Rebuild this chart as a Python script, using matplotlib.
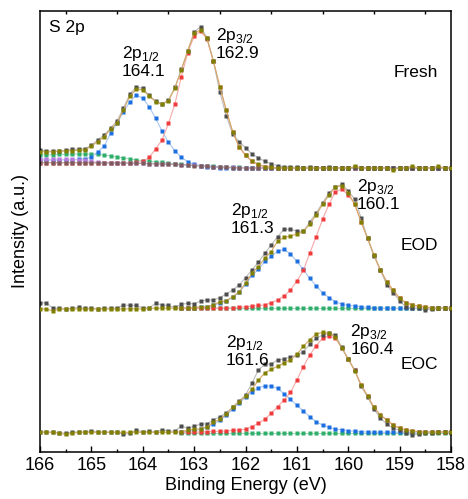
import numpy as np
import matplotlib
matplotlib.use('Agg')
from matplotlib import pyplot as plt
from matplotlib.ticker import MultipleLocator

plt.rcParams['font.family'] = ['Liberation Sans', 'DejaVu Sans']
plt.rcParams['mathtext.fontset'] = 'custom'
plt.rcParams['mathtext.rm'] = 'Liberation Sans'

# binding energy grid, 0.125 eV steps from 166 down to 158
energy = np.linspace(166, 158, 65)

# ---- Fresh ----
fresh_data = [18, 17, 16.5, 17, 17.5, 18.5, 19, 19, 23, 28,
              33, 40, 47, 60, 74, 80.7, 79.7, 72.5, 67, 64,
              68, 80.5, 98.5, 117, 136, 141.3, 130.3, 107, 75.7, 52.3,
              34, 26.3, 20.3, 14, 10.3, 6.7, 4.3, 2, 1.3, 1,
              0.5, 0.2, 1, 0.3, 0, 0.5, 0.2, 0, 0.3, 0.5,
              0, 0.2, 0, -0.3, 0.2, 0, 0.3, 0, 0.2, 0,
              0.3, 0, 0.2, 0, 0.3]
fresh_fit = [16.3, 16, 16.3, 16.7, 17, 17.3, 17.7, 18, 22, 26.3,
             31.3, 38.7, 45.3, 58, 72, 78.7, 78, 72, 66.3, 63.7,
             67.3, 79.7, 98, 117, 135, 138, 129.5, 107, 81.3, 58,
             36.3, 21.3, 13, 7, 3.5, 1.3, 0.5, 0, 0, 0,
             0, 0, 0, 0, 0, 0, 0, 0, 0, 1.5,
             0, 0, 0, 0, 0, -1.7, 0, 0, 1.7, 0,
             0, 0, 1.7, 0, 0]
fresh_p32 = [5.3, 5.3, 5.3, 5.3, 5.3, 5.3, 5.3, 5.2, 5.2, 5.1,
             5.0, 5.0, 5.0, 5.0, 5.2, 5.5, 6.5, 10.7, 19, 28,
             44.5, 64, 91, 115.3, 132, 137, 129, 106.5, 81, 57.5,
             36, 21, 12.5, 6.5, 3.3, 1.3, 0.5, 0, 0, 0,
             0, 0, 0, 0, 0, 0, 0, 0, 0, 0,
             0, 0, 0, 0, 0, 0, 0, 0, 0, 0,
             0, 0, 0, 0, 0]
fresh_p12 = [8, 8, 8, 8, 8.2, 8.4, 8.6, 9, 10.7, 16.3,
             22, 34.7, 44.7, 56.3, 66.3, 73, 69.7, 61.3, 49.7, 37,
             25.7, 17.3, 10.7, 6.3, 3.5, 2.2, 1.2, 0.6, 0.3, 0.1,
             0, 0, 0, 0, 0, 0, 0, 0, 0, 0,
             0, 0, 0, 0, 0, 0, 0, 0, 0, 0,
             0, 0, 0, 0, 0, 0, 0, 0, 0, 0,
             0, 0, 0, 0, 0]
fresh_bg = [13, 13, 13.3, 13.5, 13.7, 13.7, 14, 14, 13.7, 13.5,
            13, 12, 11, 10, 9, 8, 7.3, 6.7, 6, 5.7,
            4.7, 4.3, 3.7, 3.3, 2.7, 2.3, 2, 1.7, 1.3, 1,
            0.7, 0.5, 0.3, 0, 0, 0, 0, 0, 0, 0,
            0, 0, 0, 0, 0, 0, 0, 0, 0, 0,
            0, 0, 0, 0, 0, 0, 0, 0, 0, 0,
            0, 0, 0, 0, 0]
fresh_other = [8.7, 8.7, 8.7, 8.7, 8.6, 8.5, 8.3, 7.5, 6.5, 5.8,
               5.3, 5.1, 5.0, 4.9, 4.8, 4.7, 4.6, 4.4, 4.2, 4.0,
               3.8, 3.6, 3.3, 2.9, 2.5, 2.1, 1.7, 1.3, 1.0, 0.7,
               0.5, 0.3, 0.1, 0, 0, 0, 0, 0, 0, 0,
               0, 0, 0, 0, 0, 0, 0, 0, 0, 0,
               0, 0, 0, 0, 0, 0, 0, 0, 0, 0,
               0, 0, 0, 0, 0]
fresh_shirley = [5.3, 5.3, 5.3, 5.3, 5.3, 5.3, 5.3, 5.2, 5.2, 5.1,
                 5.0, 5.0, 4.9, 4.8, 4.7, 4.6, 4.5, 4.3, 4.1, 3.9,
                 3.7, 3.5, 3.2, 2.8, 2.4, 2.0, 1.6, 1.2, 0.9, 0.6,
                 0.4, 0.2, 0, 0, 0, 0, 0, 0, 0, 0,
                 0, 0, 0, 0, 0, 0, 0, 0, 0, 0,
                 0, 0, 0, 0, 0, 0, 0, 0, 0, 0,
                 0, 0, 0, 0, 0]

# ---- EOD ----
eod_data = [5.2, 5.8, 0, 0.5, -0.5, 0, 1, 0, 0.5, -0.5,
            0.5, 0, 0.5, 3.5, 3, 3, 0.5, 0.5, 5.2, 3.5,
            3, 1, 4.2, 5.2, 4.5, 7.5, 8.5, 8.5, 10.8, 14.5,
            18.5, 23.5, 30.8, 38.5, 46.2, 55.2, 63.5, 71.8, 79.2, 79.2,
            77.5, 77, 86.5, 95.5, 105.5, 115.5, 121.5, 124, 117.8, 109.2,
            90.8, 70.5, 52.5, 38.5, 23.5, 15.8, 7.5, 1.2, 0.8, 0.2,
            -1.5, -0.5, 0.5, 0, 0]
eod_fit = [-0.5, -0.5, -2.5, -0.5, -0.5, -0.3, -0.5, -0.5, -0.3, -0.5,
           -0.5, -0.3, -0.5, -0.5, -0.3, -0.5, -0.5, 0.3, 0.3, 0.3,
           0.3, 0.3, 0.5, 0.5, 0.8, 1.8, 1.8, 3.5, 6.8, 7.8,
           11.8, 16.8, 25.2, 35.2, 41.8, 50.2, 56.8, 67.5, 71, 72.5,
           74.5, 77, 84.2, 93.5, 104.2, 113.5, 121.8, 122.5, 115.8, 104.2,
           86.8, 70.2, 53.5, 38.5, 26.8, 18.5, 10.2, 5.8, 3.5, 2.5,
           1.8, 0.8, 0.5, 0.5, 0.5]
# components only cover the fit window (163.25 -> 158 eV)
eod_p32 = [0, 0, 0, 0.1, 0.2, 0.3, 0.4, 0.5,
           0.7, 1, 1.8, 2.2, 3, 3.5, 5.8, 8.5, 12.5, 18.5,
           27.5, 38, 55.2, 71.8, 89.2, 104.2, 116.8, 119.2, 113.5, 104.5,
           86.8, 70.2, 53.5, 38.5, 26.5, 18, 10, 5.8, 3.5, 2,
           1.2, 0.5, 0.2, 0.1, 0]
eod_p12 = [0.1, 0.2, 0.4, 1, 1.5, 3, 5.5, 7.5,
           11, 16, 24, 33, 39, 47, 52, 57.5, 59, 54.5,
           47, 39, 30, 22.5, 15.8, 10.8, 6.8, 4.2, 3.3, 2.5,
           1.8, 1.2, 0.8, 0.5, 0.3, 0.2, 0, 0, 0, 0,
           0, 0, 0, 0, 0]
eod_bg = [0, 0, 0, 0, 0, 0, 0, 0,
          0, 0, 0, 0, 0, 0, 0, 0, 0, 0,
          0, 0, 0, 0, 0, 0, 0, 0, 0, 0,
          0, 0, 0, 0, 0, 0, 0, 0, 0, 0,
          0, 0, 0, 0, 0]

# ---- EOC ----
eoc_data = [0, 0.3, 0, -0.5, -1, 0, 0.3, 0, 1.7, 0,
            0.3, 0, 0, -2, -1, 2, 0.3, 1, 0.3, 2.5,
            1.5, 1, 6.3, 4, 6, 8.3, 8.3, 12.3, 15.6, 19.6,
            25, 31.3, 37.3, 49, 62.3, 68, 68.3, 72.3, 73.3, 75.5,
            77, 80.6, 88, 94, 97.3, 99, 97.3, 85, 73, 62.3,
            46, 35.5, 23.5, 14, 8.3, 4, 2, -1, -2.7, -1.8,
            -0.3, -0.3, 0, 0.3, 0]
eoc_fit = [0, 0, 0, -1, -2, -1, 0, 0, 0, 0,
           0, 0, 0, 0, 0, 0, 0, 0, 0, 0,
           0, 0.2, 0.5, 2.3, 3, 3.5, 5.6, 10, 13, 18.3,
           24.8, 30.6, 36, 43, 52, 59.5, 63, 66, 69.5, 72.5,
           78, 86, 92.5, 98.3, 99.8, 99.3, 95, 84, 73, 61.6,
           47.3, 36.3, 25, 17.3, 12.3, 7.3, 4, 2.3, 1.3, 0.6,
           0.3, 0.3, 0.3, 0.3, 0.3]
eoc_p32 = [0, 0, 0, 0.3, 0.5, 0.8, 1, 1.3,
           1.8, 2.3, 3, 5.6, 9, 13, 19, 25.6, 32.3, 39.8,
           52.3, 65.6, 77.3, 86.6, 94, 96.3, 94, 84.5, 73.5, 62,
           47.5, 36.3, 25, 17.3, 12.3, 7.3, 4, 2.3, 1.3, 0.6,
           0.3, 0, 0, 0, 0]
eoc_p12 = [0.5, 1, 1.5, 3, 5, 8, 12, 17,
           23, 29.5, 35, 40.5, 44.5, 46.5, 46, 44, 38.5, 33,
           27, 21.5, 15.5, 10.6, 7.3, 5, 3.3, 2.3, 1.6, 1,
           0.6, 0.3, 0, 0, 0, 0, 0, 0, 0, 0,
           0, 0, 0, 0, 0]
eoc_bg = [-0.5, -0.5, -0.5, -0.5, -0.5, -0.5, -0.5, -0.5,
          -0.5, -0.5, -0.5, -0.5, -0.5, -0.5, -0.5, -0.5, -0.5, -0.5,
          -0.5, -0.5, -0.5, -0.5, -0.5, -0.5, -0.5, -0.5, -0.5, -0.5,
          -0.5, -0.5, -0.5, -0.5, -0.5, -0.5, -0.5, -0.5, -0.5, -0.5,
          -0.5, -0.5, -0.5, -0.5, -0.5]

samples = ['Fresh', 'EOD', 'EOC']
peak_12 = [164.1, 161.3, 161.6]
peak_32 = [162.9, 160.1, 160.4]
offsets = [284, 143.5, 19.7]

# (marker colour, line colour)
c_data = ('#4d4d4d', '#bdbdbd')
c_fit = ('#808000', '#d6a866')
c_p32 = ('#ef3b3b', '#f6a9a9')
c_p12 = ('#1c6fe0', '#a9c7f2')
c_bg = ('#2fae6b', '#a6dcbd')
c_other = ('#b57bdc', '#d9bdf0')
c_shirley = ('#7c5a5a', '#b8a0a0')


def trace(ax, y, off, col, z):
    y = np.asarray(y, dtype=float)
    x = energy[len(energy) - len(y):]
    ax.plot(x, y + off, '-s', color=col[1], lw=0.8, mfc=col[0], mec='none',
            ms=3.4, zorder=z)


fig = plt.figure(figsize=(4.68, 4.99), dpi=100)
ax = fig.add_axes([0.0855, 0.0942, 0.8782, 0.8838])

off = offsets[0]
trace(ax, fresh_bg, off, c_bg, 2.0)
trace(ax, fresh_p12, off, c_p12, 2.1)
trace(ax, fresh_p32, off, c_p32, 2.2)
trace(ax, fresh_other, off, c_other, 2.3)
trace(ax, fresh_shirley, off, c_shirley, 2.4)
trace(ax, fresh_data, off, c_data, 2.5)
trace(ax, fresh_fit, off, c_fit, 2.6)

for data, fit, p32, p12, bg, off in [(eod_data, eod_fit, eod_p32, eod_p12, eod_bg, offsets[1]),
                                     (eoc_data, eoc_fit, eoc_p32, eoc_p12, eoc_bg, offsets[2])]:
    trace(ax, bg, off, c_bg, 2.2)
    trace(ax, p12, off, c_p12, 2.3)
    trace(ax, p32, off, c_p32, 2.4)
    trace(ax, data, off, c_data, 2.5)
    trace(ax, fit, off, c_fit, 2.6)

fs = 12.5
ax.text(165.83, 432, 'S 2p', fontsize=fs, va='top', ha='left')

# peak labels: (x of 1/2 label, y top, x of 3/2 label, y top, name y)
lab_pos = [(164.41, 408, 162.58, 426, 379),
           (162.29, 251, 159.83, 275, 206),
           (162.38, 119, 159.96, 130, 87)]
for name, b12, b32, (x12, y12, x32, y32, yn) in zip(samples, peak_12, peak_32, lab_pos):
    ax.text(x12, y12, r'2p$_{\mathregular{1/2}}$', fontsize=fs, va='top', ha='left')
    ax.text(x12, y12 - 20, f'{b12:.1f}', fontsize=fs, va='top', ha='left')
    ax.text(x32, y32, r'2p$_{\mathregular{3/2}}$', fontsize=fs, va='top', ha='left')
    ax.text(x32, y32 - 20, f'{b32:.1f}', fontsize=fs, va='top', ha='left')
    ax.text(158.25, yn, name, fontsize=fs, va='center', ha='right')

ax.set_xlim(166, 158)
ax.set_ylim(0, 441)
ax.xaxis.set_major_locator(MultipleLocator(1))
ax.xaxis.set_minor_locator(MultipleLocator(0.5))
ax.tick_params(axis='x', which='major', direction='in', length=4, width=1,
               top=False, labelsize=13)
ax.tick_params(axis='x', which='minor', direction='in', length=2.2, width=1,
               top=True)
ax.set_yticks([])
for s in ax.spines.values():
    s.set_linewidth(1.1)

ax.set_xlabel('Binding Energy (eV)', fontsize=13, labelpad=2)
ax.set_ylabel('Intensity (a.u.)', fontsize=13, labelpad=8)

fig.savefig('out.png', dpi=100)
